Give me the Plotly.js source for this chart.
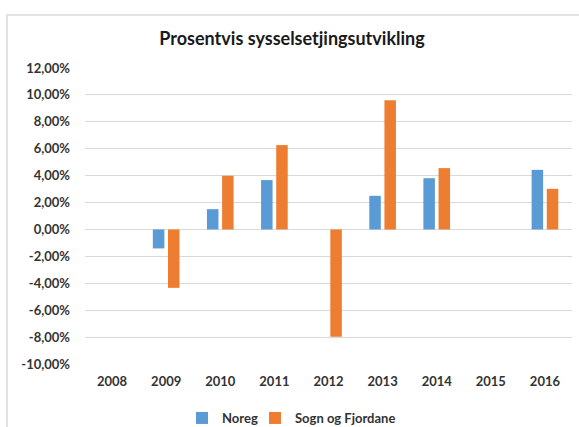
<!DOCTYPE html>
<html>
<head>
<meta charset="utf-8">
<script src="https://cdn.plot.ly/plotly-3.0.1.min.js"></script>
<style>
  html, body { margin: 0; padding: 0; background: #fff; overflow: hidden; }
  #wrap { position: relative; width: 579px; height: 427px; overflow: hidden; }
  #chart { width: 579px; height: 450px; }
  #frame { position: absolute; left: 6px; top: 14px; width: 700px; height: 600px;
           border-left: 2px solid #e2e2e2; border-top: 2px solid #e2e2e2; pointer-events: none; }
</style>
</head>
<body>
<div id="wrap">
  <div id="chart"></div>
  <div id="frame"></div>
</div>
<script>
const years = ["2008", "2009", "2010", "2011", "2012", "2013", "2014", "2015", "2016"];
const noreg = [null, -1.41, 1.51, 3.67, null, 2.50, 3.81, null, 4.43];
const sognOgFjordane = [null, -4.34, 3.99, 6.27, -7.98, 9.61, 4.56, null, 3.02];
const yTickValues = [-10, -8, -6, -4, -2, 0, 2, 4, 6, 8, 10, 12];
const yTickLabels = ["-10,00%", "-8,00%", "-6,00%", "-4,00%", "-2,00%", "0,00%", "2,00%", "4,00%", "6,00%", "8,00%", "10,00%", "12,00%"];
const seriesNames = ["Noreg", "Sogn og Fjordane"];
const chartTitle = "Prosentvis sysselsetjingsutvikling";

const FONT = "Lato, 'Open Sans', sans-serif";
// figure drawn a little taller than the visible 427px window so the legend never pushes the margins
const W = 579, H = 450, L = 85, R = 7, T = 68, PLOT_BOTTOM = 364;
const paperH = H - T;
const px2x = p => (p - L) / (W - L - R);
const px2y = p => (H - p) / paperH;

const legendFont = { family: FONT, size: 13, color: "#333", weight: "bold" };
const traces = [
  { type: "bar", name: seriesNames[0], x: years, y: noreg, marker: { color: "#5B9BD5" }, hoverinfo: "none", legend: "legend" },
  { type: "bar", name: seriesNames[1], x: years, y: sognOgFjordane, marker: { color: "#ED7D31" }, hoverinfo: "none", legend: "legend2" }
];
const layout = {
  width: W, height: H,
  margin: { l: L, r: R, t: T, b: 0, pad: 0 },
  paper_bgcolor: "#fff", plot_bgcolor: "#fff",
  barmode: "group", bargap: 0.44, bargroupgap: 0.24,
  font: { family: FONT, color: "#333", size: 13 },
  title: { text: "<b>" + chartTitle + "</b>", x: 292 / W, xanchor: "center", y: 1 - 39 / H, yanchor: "middle",
           font: { family: FONT, size: 18, color: "#1a1a1a" } },
  xaxis: { type: "category", showgrid: false, zeroline: false, showline: false, ticks: "",
           tickfont: { family: FONT, size: 13, color: "#333", weight: "bold" }, ticklabelstandoff: 8, fixedrange: true },
  yaxis: { domain: [px2y(PLOT_BOTTOM), 1], range: [-10, 12], tickvals: yTickValues, ticktext: yTickLabels,
           showgrid: true, gridcolor: "#d9d9d9", gridwidth: 1,
           zeroline: true, zerolinecolor: "#d9d9d9", zerolinewidth: 1, showline: false, ticks: "",
           tickfont: { family: FONT, size: 13, color: "#333", weight: "bold" }, ticklabelstandoff: 14, fixedrange: true },
  showlegend: true,
  legend: { orientation: "h", x: px2x(182), xanchor: "left", y: px2y(418), yanchor: "middle",
            font: legendFont, itemwidth: 30, bgcolor: "rgba(0,0,0,0)" },
  legend2: { orientation: "h", x: px2x(255), xanchor: "left", y: px2y(418), yanchor: "middle",
             font: legendFont, itemwidth: 30, bgcolor: "rgba(0,0,0,0)" }
};
Plotly.newPlot("chart", traces, layout, { staticPlot: true, displayModeBar: false });
</script>
</body>
</html>
